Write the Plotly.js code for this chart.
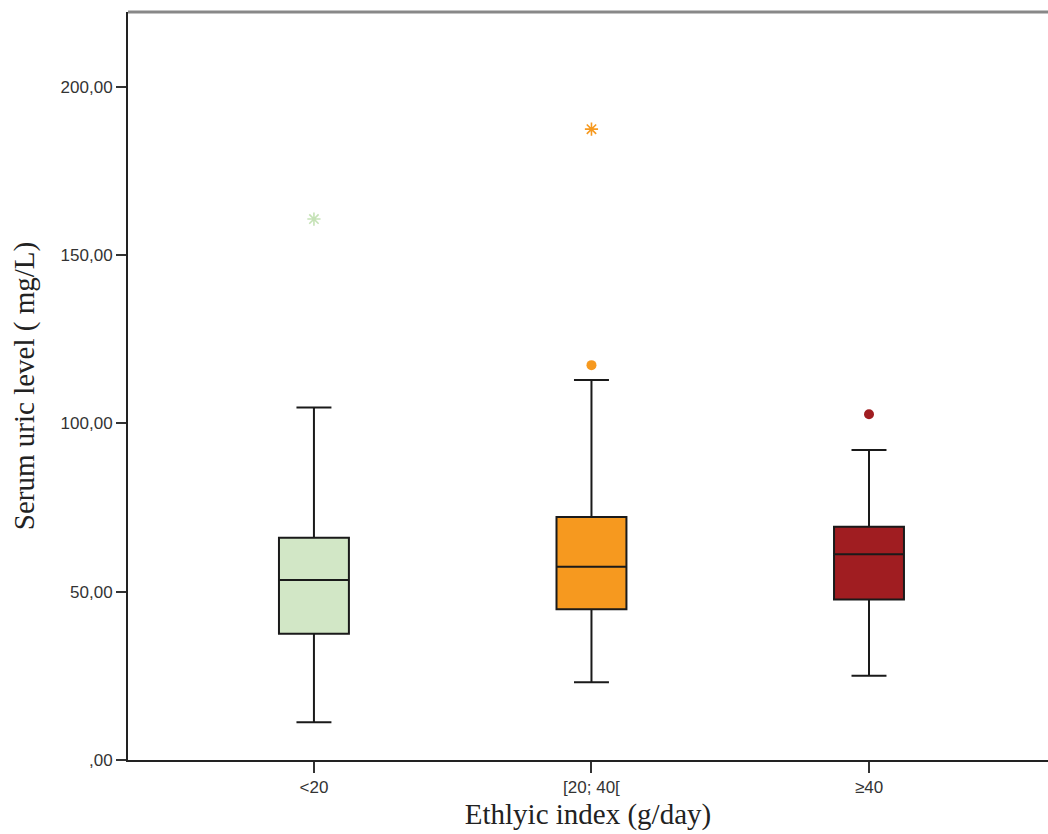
<!DOCTYPE html>
<html>
<head>
<meta charset="utf-8">
<script src="https://cdn.plot.ly/plotly-3.0.1.min.js"></script>
<style>html,body{margin:0;padding:0;background:#fff;}#chart{width:1048px;height:834px;}</style>
</head>
<body>
<div id="chart"></div>
<script>
// Categories
const categories = ["<20", "[20; 40[", "≥40"];
// Box statistics (mg/L)
const lowerWhisker = [11.2, 23.1, 25.0];
const q1Values     = [37.5, 44.8, 47.7];
const medianValues = [53.5, 57.4, 61.1];
const q3Values     = [66.0, 72.2, 69.3];
const upperWhisker = [104.7, 112.9, 92.1];
// Outliers (circle) and extremes (star)
const outlierCats   = ["[20; 40[", "≥40"];
const outlierValues = [117.3, 102.7];
const extremeCats   = ["<20", "[20; 40["];
const extremeValues = [160.7, 187.4];
// Tick labels
const yTickVals = [0, 50, 100, 150, 200];
const yTickText = [",00", "50,00", "100,00", "150,00", "200,00"];
// Colours
const fillColors = {"<20": "#d2e7c6", "[20; 40[": "#f6991f", "≥40": "#a01d21"};
const markerColors = {"<20": "#c5e2b6", "[20; 40[": "#f6991f", "≥40": "#a01d21"};

const traces = categories.map((c, i) => ({
  type: "box",
  x: [c],
  q1: [q1Values[i]],
  median: [medianValues[i]],
  q3: [q3Values[i]],
  lowerfence: [lowerWhisker[i]],
  upperfence: [upperWhisker[i]],
  boxpoints: false,
  fillcolor: fillColors[c],
  line: {color: "#1a1a1a", width: 2},
  width: 0.252,
  whiskerwidth: 0.5,
  showlegend: false,
  hoverinfo: "skip"
}));

traces.push({
  type: "scatter", mode: "markers",
  x: outlierCats, y: outlierValues,
  marker: {symbol: "circle", size: 10, color: outlierCats.map(c => markerColors[c])},
  showlegend: false, hoverinfo: "skip"
});
traces.push({
  type: "scatter", mode: "markers",
  x: extremeCats, y: extremeValues,
  marker: {symbol: "asterisk-open", size: 11, color: extremeCats.map(c => markerColors[c]), line: {width: 1.6}},
  showlegend: false, hoverinfo: "skip"
});

const layout = {
  width: 1048, height: 834,
  margin: {l: 128, r: 0, t: 12, b: 74},
  paper_bgcolor: "#fff", plot_bgcolor: "#fff",
  boxmode: "overlay",
  showlegend: false,
  xaxis: {
    type: "category",
    categoryorder: "array", categoryarray: categories,
    range: [-0.67, 2.645],
    showgrid: false, zeroline: false,
    showline: true, linecolor: "#222", linewidth: 2,
    ticks: "outside", ticklen: 11, tickwidth: 2, tickcolor: "#333",
    tickfont: {family: "Liberation Sans, Arial, sans-serif", size: 17, color: "#333"},
    title: {text: "Ethlyic index (g/day)", font: {family: "Liberation Serif, Times New Roman, serif", size: 29, color: "#222"}, standoff: 7}
  },
  yaxis: {
    range: [0, 222.2],
    tickvals: yTickVals, ticktext: yTickText,
    showgrid: false, zeroline: false,
    showline: true, linecolor: "#222", linewidth: 2,
    ticks: "outside", ticklen: 10, tickwidth: 2, tickcolor: "#333",
    tickfont: {family: "Liberation Sans, Arial, sans-serif", size: 17, color: "#333"},
    title: {text: "Serum uric level ( mg/L)", font: {family: "Liberation Serif, Times New Roman, serif", size: 29, color: "#222"}, standoff: 17}
  },
  shapes: [{
    type: "line", xref: "paper", yref: "paper",
    x0: 0, x1: 1, y0: 1, y1: 1,
    line: {color: "#888", width: 3}
  }]
};

Plotly.newPlot("chart", traces, layout, {staticPlot: true, displayModeBar: false});
</script>
</body>
</html>
